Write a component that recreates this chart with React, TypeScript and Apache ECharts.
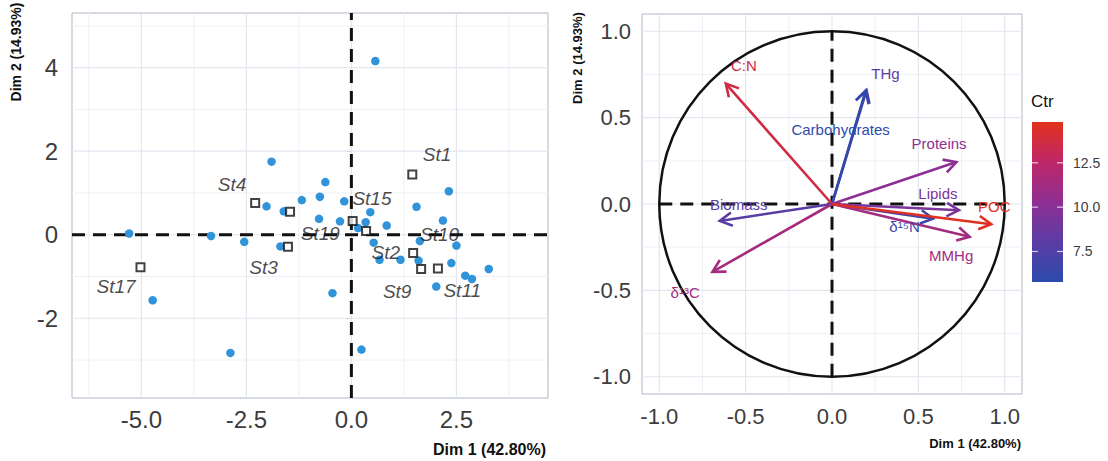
import { useEffect, useRef } from "react";
import * as echarts from "echarts";

const FONT = '"Liberation Sans", Arial, Helvetica, sans-serif';

// ---------- Individuals (left panel) ----------
const indDim1 = [0.57, -1.9, -0.62, -0.75, -1.18, -2.02, -1.61, -0.17, -0.77, -0.27, 0.34, 0.16, -2.55, -1.69, -0.45, 0.45, 2.32, 1.55, 0.84, 2.18, 0.53, 0.67, 1.17, 1.63, 2.5, 1.6, 2.38, 2.71, 2.87, 3.27, 2.02, -5.29, -3.34, -4.73, -2.88, 0.24];
const indDim2 = [4.16, 1.75, 1.26, 0.91, 0.83, 0.68, 0.56, 0.8, 0.38, 0.32, 0.3, 0.16, -0.17, -0.28, -1.4, 0.54, 1.04, 0.67, 0.22, 0.34, -0.19, -0.6, -0.6, -0.15, -0.26, -0.62, -0.68, -0.98, -1.06, -0.82, -1.24, 0.03, -0.03, -1.57, -2.83, -2.75];

// ---------- Stations (supplementary) ----------
const stNames = ["St4", "St19", "St3", "St17", "St15", "St10", "St1", "St2", "St9", "St11"];
const stDim1 = [-2.29, -1.46, -1.51, -5.02, 0.03, 0.35, 1.45, 1.47, 1.66, 2.06];
const stDim2 = [0.76, 0.55, -0.29, -0.78, 0.33, 0.09, 1.44, -0.44, -0.82, -0.81];
const stLabelDim1 = [-2.84, -0.74, -2.09, -5.6, 0.49, 2.1, 2.04, 0.82, 1.09, 2.64];
const stLabelDim2 = [1.21, 0.03, -0.78, -1.25, 0.87, 0.01, 1.91, -0.43, -1.35, -1.33];

// ---------- Variables (right panel) ----------
const varNames = ["THg", "Carbohydrates", "C:N", "Proteins", "Lipids", "δ¹⁵N", "MMHg", "POC", "Biomass", "δ¹³C"];
const varDim1 = [0.2, 0.195, -0.615, 0.72, 0.735, 0.585, 0.797, 0.922, -0.65, -0.692];
const varDim2 = [0.66, 0.657, 0.697, 0.243, -0.036, -0.085, -0.19, -0.117, -0.098, -0.393];
const varCtr = [8.2, 5.9, 13.6, 10.2, 9.4, 6.8, 11.2, 14.6, 8.0, 11.4];
const varLabelDim1 = [0.31, 0.05, -0.51, 0.62, 0.613, 0.42, 0.69, 0.94, -0.54, -0.85];
const varLabelDim2 = [0.756, 0.43, 0.8, 0.353, 0.06, -0.13, -0.3, -0.017, 0.0, -0.51];

// ---------- Axes ----------
const indXRange = [-6.65, 4.68];
const indYRange = [-3.91, 5.31];
const indXTicks = [-5, -2.5, 0, 2.5];
const indXMinor = [-6.25, -3.75, -1.25, 1.25, 3.75];
const indYTicks = [-2, 0, 2, 4];
const indYMinor = [-3, -1, 1, 3, 5];

const corRange = [-1.1, 1.1];
const corTicks = [-1, -0.5, 0, 0.5, 1];
const corMinor = [-0.75, -0.25, 0.25, 0.75];

const ctrRange = [5.78, 14.8];
const ctrTicks = [7.5, 10, 12.5];
const ctrColors = ["#2b4bab", "#5b3ca5", "#8f2f93", "#bd2767", "#e3311d"];

const GRID_MAJOR = "#e2e6ee";
const GRID_MINOR = "#eef0f5";
const BORDER = "#aeb6c6";
const TICK_TXT = "#3c3c3c";

function segSeries(axis: number, data: number[][], style: any, z: number) {
  return {
    type: "custom",
    xAxisIndex: axis,
    yAxisIndex: axis,
    z,
    silent: true,
    data,
    encode: { x: [0, 2], y: [1, 3] },
    renderItem: (_p: any, api: any) => {
      const a = api.coord([api.value(0), api.value(1)]);
      const b = api.coord([api.value(2), api.value(3)]);
      return {
        type: "line",
        shape: { x1: a[0], y1: a[1], x2: b[0], y2: b[1] },
        style: { fill: null, ...style },
      };
    },
  };
}

function vLines(vals: number[], yr: number[]) {
  return vals.map((v) => [v, yr[0], v, yr[1]]);
}
function hLines(vals: number[], xr: number[]) {
  return vals.map((v) => [xr[0], v, xr[1], v]);
}

function valueAxis(grid: number, range: number[], ticks: number[], fmt: (v: number) => string, fontSize: number, margin: number, extra: any = {}) {
  return {
    gridIndex: grid,
    type: "value",
    min: range[0],
    max: range[1],
    axisLine: { show: false },
    splitLine: { show: false },
    axisTick: { show: true, customValues: ticks, length: 5, lineStyle: { color: "#9a9a9a", width: 1 } },
    axisLabel: {
      customValues: ticks,
      formatter: (v: number) => fmt(Number(v)),
      fontSize,
      fontFamily: FONT,
      color: TICK_TXT,
      margin,
    },
    ...extra,
  };
}

export default function App() {
  const ref = useRef<HTMLDivElement>(null);

  useEffect(() => {
    if (!ref.current) return;
    const chart = echarts.init(ref.current, null, { renderer: "svg" });

    const series: any[] = [];
    // left grid lines
    series.push(segSeries(0, [...vLines(indXMinor, indYRange), ...hLines(indYMinor, indXRange)], { stroke: GRID_MINOR, lineWidth: 1 }, 1));
    series.push(segSeries(0, [...vLines(indXTicks, indYRange), ...hLines(indYTicks, indXRange)], { stroke: GRID_MAJOR, lineWidth: 1.2 }, 1));
    series.push(segSeries(0, [...vLines([0], indYRange), ...hLines([0], indXRange)], { stroke: "#111", lineWidth: 3, lineDash: [13, 8] }, 2));
    // individuals
    series.push({
      type: "scatter",
      xAxisIndex: 0,
      yAxisIndex: 0,
      z: 3,
      symbol: "circle",
      symbolSize: 8.5,
      itemStyle: { color: "#3193da", opacity: 1 },
      data: indDim1.map((x, i) => [x, indDim2[i]]),
    });
    // stations
    series.push({
      type: "scatter",
      xAxisIndex: 0,
      yAxisIndex: 0,
      z: 4,
      symbol: "rect",
      symbolSize: 8,
      itemStyle: { color: "#ffffff", borderColor: "#111", borderWidth: 2 },
      data: stDim1.map((x, i) => [x, stDim2[i]]),
    });
    series.push({
      type: "scatter",
      xAxisIndex: 0,
      yAxisIndex: 0,
      z: 5,
      symbolSize: 0,
      silent: true,
      data: stLabelDim1.map((x, i) => [x, stLabelDim2[i]]),
      label: {
        show: true,
        position: "inside",
        formatter: (p: any) => stNames[p.dataIndex],
        fontSize: 19,
        fontStyle: "italic",
        fontFamily: FONT,
        color: "#1a1a1a",
      },
    });

    // right grid lines
    series.push(segSeries(1, [...vLines(corMinor, corRange), ...hLines(corMinor, corRange)], { stroke: GRID_MINOR, lineWidth: 1 }, 1));
    series.push(segSeries(1, [...vLines(corTicks, corRange), ...hLines(corTicks, corRange)], { stroke: GRID_MAJOR, lineWidth: 1.2 }, 1));
    // circle
    series.push({
      type: "custom",
      xAxisIndex: 1,
      yAxisIndex: 1,
      z: 2,
      silent: true,
      data: [[0, 0]],
      renderItem: (_p: any, api: any) => {
        const c = api.coord([0, 0]);
        const p = api.coord([1, 1]);
        return {
          type: "ellipse",
          shape: { cx: c[0], cy: c[1], rx: p[0] - c[0], ry: c[1] - p[1] },
          style: { fill: null, stroke: "#111", lineWidth: 2.5 },
        };
      },
    });
    series.push(segSeries(1, [...vLines([0], [-1, 1]), ...hLines([0], [-1, 1])], { stroke: "#111", lineWidth: 3, lineDash: [13, 8] }, 2));
    // arrows
    const arrowIdx = series.length;
    series.push({
      type: "custom",
      xAxisIndex: 1,
      yAxisIndex: 1,
      z: 3,
      silent: true,
      data: varDim1.map((x, i) => [x, varDim2[i], varCtr[i]]),
      encode: { x: 0, y: 1 },
      renderItem: (_p: any, api: any) => {
        const o = api.coord([0, 0]);
        const e = api.coord([api.value(0), api.value(1)]);
        const col = api.visual("color");
        const ang = Math.atan2(e[1] - o[1], e[0] - o[0]);
        const L = 14;
        const s = 0.5;
        const h1 = [e[0] - L * Math.cos(ang - s), e[1] - L * Math.sin(ang - s)];
        const h2 = [e[0] - L * Math.cos(ang + s), e[1] - L * Math.sin(ang + s)];
        return {
          type: "group",
          children: [
            { type: "line", shape: { x1: o[0], y1: o[1], x2: e[0], y2: e[1] }, style: { stroke: col, lineWidth: 2.6, fill: null } },
            { type: "polyline", shape: { points: [h1, e, h2] }, style: { stroke: col, lineWidth: 2.6, fill: null } },
          ],
        };
      },
    });
    const labelIdx = series.length;
    series.push({
      type: "custom",
      xAxisIndex: 1,
      yAxisIndex: 1,
      z: 4,
      silent: true,
      data: varLabelDim1.map((x, i) => [x, varLabelDim2[i], varCtr[i]]),
      encode: { x: 0, y: 1 },
      renderItem: (p: any, api: any) => {
        const c = api.coord([api.value(0), api.value(1)]);
        return {
          type: "text",
          x: c[0],
          y: c[1],
          style: {
            text: varNames[p.dataIndex],
            fill: api.visual("color"),
            fontSize: 15,
            fontFamily: FONT,
            align: "center",
            verticalAlign: "middle",
          },
        };
      },
    });

    // colorbar
    series.push({
      type: "custom",
      xAxisIndex: 2,
      yAxisIndex: 2,
      z: 2,
      silent: true,
      data: [[0, ctrRange[0], 1, ctrRange[1]]],
      encode: { x: [0, 2], y: [1, 3] },
      renderItem: (_p: any, api: any) => {
        const a = api.coord([api.value(0), api.value(1)]);
        const b = api.coord([api.value(2), api.value(3)]);
        return {
          type: "rect",
          shape: { x: a[0], y: b[1], width: b[0] - a[0], height: a[1] - b[1] },
          style: {
            fill: new echarts.graphic.LinearGradient(0, 1, 0, 0, ctrColors.map((c, i) => ({ offset: i / (ctrColors.length - 1), color: c }))),
          },
        };
      },
    });
    series.push({
      type: "custom",
      xAxisIndex: 2,
      yAxisIndex: 2,
      z: 3,
      silent: true,
      data: ctrTicks.map((v) => [0, v]),
      encode: { x: 0, y: 1 },
      renderItem: (_p: any, api: any) => {
        const a = api.coord([0, api.value(1)]);
        const b = api.coord([1, api.value(1)]);
        const st = { stroke: "rgba(255,255,255,0.75)", lineWidth: 1.2, fill: null };
        return {
          type: "group",
          children: [
            { type: "line", shape: { x1: a[0], y1: a[1], x2: a[0] + 6, y2: a[1] }, style: st },
            { type: "line", shape: { x1: b[0] - 6, y1: b[1], x2: b[0], y2: b[1] }, style: st },
          ],
        };
      },
    });

    const option: any = {
      animation: false,
      backgroundColor: "#ffffff",
      grid: [
        { left: 72, top: 13, width: 476, height: 385, show: true, borderColor: BORDER, borderWidth: 1, backgroundColor: "transparent" },
        { left: 642, top: 14, width: 380, height: 380, show: true, borderColor: BORDER, borderWidth: 1, backgroundColor: "transparent" },
        { left: 1032, top: 122, width: 31, height: 160, show: false },
      ],
      xAxis: [
        valueAxis(0, indXRange, indXTicks, (v) => v.toFixed(1), 24, 9),
        valueAxis(1, corRange, corTicks, (v) => v.toFixed(1), 22, 11),
        { gridIndex: 2, type: "value", min: 0, max: 1, show: false },
      ],
      yAxis: [
        valueAxis(0, indYRange, indYTicks, (v) => String(v), 24, 14),
        valueAxis(1, corRange, corTicks, (v) => v.toFixed(1), 22, 11),
        {
          gridIndex: 2,
          type: "value",
          position: "right",
          min: ctrRange[0],
          max: ctrRange[1],
          axisLine: { show: false },
          splitLine: { show: false },
          axisTick: { show: false, customValues: ctrTicks },
          axisLabel: { customValues: ctrTicks, formatter: (v: number) => Number(v).toFixed(1), fontSize: 14, fontFamily: FONT, color: TICK_TXT, margin: 10 },
        },
      ],
      visualMap: [
        {
          type: "continuous",
          show: false,
          min: ctrRange[0],
          max: ctrRange[1],
          dimension: 2,
          seriesIndex: [arrowIdx, labelIdx],
          inRange: { color: ctrColors },
        },
      ],
      graphic: [
        { type: "text", x: 16, y: 52, rotation: Math.PI / 2, style: { text: "Dim 2 (14.93%)", font: `bold 14px ${FONT}`, fill: "#111", align: "center", verticalAlign: "middle" } },
        { type: "text", x: 577, y: 58, rotation: Math.PI / 2, style: { text: "Dim 2 (14.93%)", font: `bold 13px ${FONT}`, fill: "#111", align: "center", verticalAlign: "middle" } },
        { type: "text", x: 546, y: 449, style: { text: "Dim 1 (42.80%)", font: `bold 16px ${FONT}`, fill: "#111", align: "right", verticalAlign: "middle" } },
        { type: "text", x: 1021, y: 443, style: { text: "Dim 1 (42.80%)", font: `bold 13px ${FONT}`, fill: "#111", align: "right", verticalAlign: "middle" } },
        { type: "text", x: 1031, y: 101, style: { text: "Ctr", font: `17px ${FONT}`, fill: "#111", align: "left", verticalAlign: "middle" } },
      ],
      series,
    };

    chart.setOption(option);
    return () => chart.dispose();
  }, []);

  return <div ref={ref} style={{ position: "fixed", left: 0, top: 0, width: 1108, height: 461, background: "#fff" }} />;
}
